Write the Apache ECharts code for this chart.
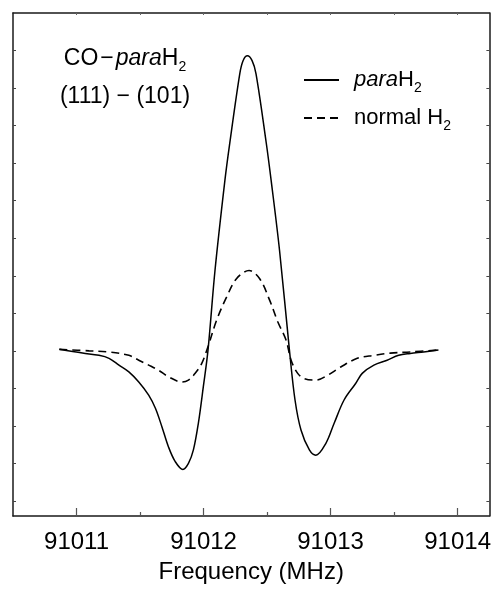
<!DOCTYPE html>
<html>
<head>
<meta charset="utf-8">
<script src="https://cdn.jsdelivr.net/npm/echarts@6/dist/echarts.min.js"></script>
<style>
  html, body { margin: 0; padding: 0; background: #fff; }
  #chart { width: 494px; height: 589px; }
</style>
</head>
<body>
<div id="chart"></div>
<script>
// CO–paraH2 (111)–(101) line profile, intensity in arbitrary units (baseline = 0)
const freqPara = [
  91010.865, 91011.047, 91011.177, 91011.256, 91011.334, 91011.412, 91011.490,
  91011.568, 91011.621, 91011.672, 91011.724, 91011.777, 91011.837, 91011.881,
  91011.920, 91011.959, 91011.998, 91012.035, 91012.090, 91012.168, 91012.205,
  91012.285, 91012.311, 91012.345, 91012.382, 91012.413, 91012.493, 91012.532,
  91012.598, 91012.676, 91012.720, 91012.767, 91012.833, 91012.884, 91012.962,
  91013.028, 91013.106, 91013.197, 91013.249, 91013.341, 91013.445, 91013.536,
  91013.627, 91013.732, 91013.849
];
const paraH2 = [
  0.04, -0.06, -0.12, -0.20, -0.38, -0.56, -0.83,
  -1.18, -1.53, -2.02, -2.56, -2.95, -3.16, -3.00,
  -2.64, -1.93, -0.96, 0.02, 2.14, 4.54, 5.50,
  7.38, 7.73, 7.86, 7.73, 7.38, 5.55, 4.54,
  2.68, 0.02, -1.31, -2.11, -2.64, -2.78, -2.47,
  -1.93, -1.31, -0.87, -0.60, -0.38, -0.25, -0.12,
  -0.07, -0.03, 0.02
];
const freqNormal = [
  91010.865, 91011.099, 91011.256, 91011.412, 91011.490, 91011.568, 91011.647,
  91011.724, 91011.829, 91011.881, 91011.934, 91011.985, 91012.037, 91012.102,
  91012.181, 91012.259, 91012.358, 91012.442, 91012.520, 91012.585, 91012.650,
  91012.689, 91012.741, 91012.794, 91012.884, 91012.976, 91013.080, 91013.210,
  91013.341, 91013.471, 91013.627, 91013.836
];
const normalH2 = [
  0.04, 0.00, -0.03, -0.12, -0.25, -0.38, -0.52,
  -0.69, -0.83, -0.78, -0.60, -0.34, 0.13, 0.81,
  1.43, 1.92, 2.14, 1.92, 1.35, 0.77, 0.28,
  -0.25, -0.60, -0.74, -0.78, -0.65, -0.43, -0.20,
  -0.12, -0.06, -0.03, 0.02
];
const freqMajorTicks = [91011, 91012, 91013, 91014];
const freqMinorTicks = [91011.5, 91012.5, 91013.5];
const freqTopTicks = [91011, 91011.5, 91012, 91012.5, 91013, 91013.5, 91014];
const intensityTicks = [-4, -3, -2, -1, 0, 1, 2, 3, 4, 5, 6, 7, 8];

const FONT = 'Liberation Sans, Arial, Helvetica, sans-serif';
const INK = '#000';
const FRAME = '#1a1a1a';

const zip = (xs, ys) => xs.map((x, i) => [x, ys[i]]);

// rich-text styles: normal, italic, padded variants, minus sign, subscript
const legendRich = {
  n: { fontFamily: FONT, fontSize: 22, color: INK, lineHeight: 30 },
  ip: { fontFamily: FONT, fontSize: 22, color: INK, lineHeight: 30, fontStyle: 'italic', padding: [0, 0, 0, 10] },
  np: { fontFamily: FONT, fontSize: 22, color: INK, lineHeight: 30, padding: [0, 0, 0, 10] },
  s: { fontFamily: FONT, fontSize: 14, color: INK, lineHeight: 10, verticalAlign: 'bottom' }
};
const labelRich = {
  n: { fontFamily: FONT, fontSize: 23, color: INK, lineHeight: 30 },
  i: { fontFamily: FONT, fontSize: 23, color: INK, lineHeight: 30, fontStyle: 'italic' },
  m: { fontFamily: FONT, fontSize: 23, color: INK, lineHeight: 30, padding: [0, 2, 0, 2] },
  s: { fontFamily: FONT, fontSize: 14, color: INK, lineHeight: 10, verticalAlign: 'bottom' }
};

const chart = echarts.init(document.getElementById('chart'), null, { renderer: 'canvas' });

const xCommon = {
  type: 'value',
  min: 91010.5,
  max: 91014.25,
  splitLine: { show: false }
};
const yCommon = {
  type: 'value',
  min: -4.4,
  max: 9,
  splitLine: { show: false },
  axisLabel: { show: false },
  axisLine: { show: true, onZero: false, lineStyle: { color: FRAME, width: 1.5 } },
  axisTick: { show: true, inside: true, length: 3, customValues: intensityTicks, lineStyle: { color: '#444', width: 1 } }
};

chart.setOption({
  animation: false,
  backgroundColor: '#fff',
  grid: { left: 13, top: 13, width: 480, height: 504, containLabel: false },
  xAxis: [
    Object.assign({}, xCommon, {
      position: 'bottom',
      name: 'Frequency (MHz)',
      nameLocation: 'middle',
      nameGap: 44,
      nameTextStyle: { fontFamily: FONT, fontSize: 24, color: INK },
      axisLine: { show: true, onZero: false, lineStyle: { color: FRAME, width: 1.5 } },
      axisTick: { show: true, inside: true, length: 8, customValues: freqMajorTicks, lineStyle: { color: '#555', width: 1.2 } },
      axisLabel: { show: true, margin: 14, customValues: freqMajorTicks, fontFamily: FONT, fontSize: 24, color: INK,
        formatter: v => String(Math.round(v)) }
    }),
    Object.assign({}, xCommon, {
      position: 'bottom',
      axisLine: { show: false, onZero: false },
      axisLabel: { show: false },
      axisTick: { show: true, inside: true, length: 4, customValues: freqMinorTicks, lineStyle: { color: '#555', width: 1.2 } }
    }),
    Object.assign({}, xCommon, {
      position: 'top',
      axisLine: { show: true, onZero: false, lineStyle: { color: FRAME, width: 1.5 } },
      axisLabel: { show: false },
      axisTick: { show: true, inside: true, length: 2, customValues: freqTopTicks, lineStyle: { color: '#666', width: 1 } }
    })
  ],
  yAxis: [
    Object.assign({}, yCommon, { position: 'left' }),
    Object.assign({}, yCommon, { position: 'right' })
  ],
  legend: {
    orient: 'vertical',
    left: 298,
    top: 64,
    itemWidth: 35,
    itemHeight: 14,
    itemGap: 12,
    selectedMode: false,
    itemStyle: { opacity: 0 },
    data: ['paraH2', 'normal H2'],
    formatter: name => name === 'paraH2' ? '{ip|para}{n|H}{s|2}' : '{np|normal H}{s|2}',
    textStyle: { rich: legendRich }
  },
  graphic: [
    {
      type: 'text',
      x: 125, y: 59,
      style: {
        text: '{n|CO}{m|\u2212}{i|para}{n|H}{s|2}',
        rich: labelRich,
        align: 'center',
        verticalAlign: 'middle'
      }
    },
    {
      type: 'text',
      x: 125, y: 97,
      style: {
        text: '{n|(111) \u2212 (101)}',
        rich: labelRich,
        align: 'center',
        verticalAlign: 'middle'
      }
    }
  ],
  series: [
    {
      name: 'paraH2',
      type: 'line',
      xAxisIndex: 0,
      yAxisIndex: 0,
      data: zip(freqPara, paraH2),
      showSymbol: false,
      symbol: 'none',
      smooth: 0.35,
      lineStyle: { color: INK, width: 1.5, type: 'solid' },
      itemStyle: { color: INK }
    },
    {
      name: 'normal H2',
      type: 'line',
      xAxisIndex: 0,
      yAxisIndex: 0,
      data: zip(freqNormal, normalH2),
      showSymbol: false,
      symbol: 'none',
      smooth: 0.35,
      lineStyle: { color: INK, width: 1.6, type: [8, 5] },
      itemStyle: { color: INK }
    }
  ]
});
</script>
</body>
</html>
